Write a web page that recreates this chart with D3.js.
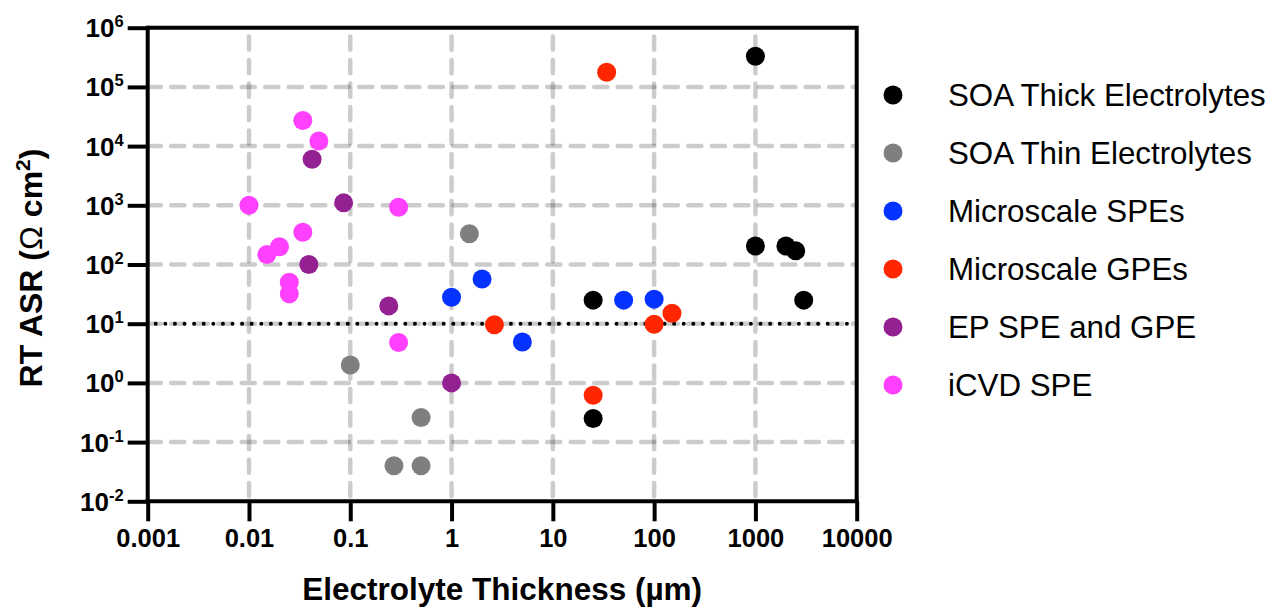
<!DOCTYPE html>
<html>
<head>
<meta charset="utf-8">
<script src="https://cdn.jsdelivr.net/npm/d3@7"></script>
<style>
  html, body { margin: 0; padding: 0; background: #fff; }
  svg { display: block; font-family: "Liberation Sans", Arial, Helvetica, sans-serif; }
</style>
</head>
<body>
<svg id="chart" width="1270" height="608"></svg>
<script>
// Series (thickness in µm, area-specific resistance in Ω·cm²)
const soaThickX = [1000, 1000, 2000, 2500, 3000, 25, 25];
const soaThickY = [330000, 205, 205, 170, 25, 25, 0.25];

const soaThinX = [0.1, 0.5, 0.27, 0.5, 1.5];
const soaThinY = [2, 0.26, 0.04, 0.04, 330];

const microSpeX = [1, 2, 5, 50, 100];
const microSpeY = [28, 57, 4.9, 25, 26];

const microGpeX = [34, 2.65, 100, 150, 25];
const microGpeY = [177000, 9.6, 9.8, 15, 0.62];

const epX = [0.042, 0.086, 0.039, 0.24, 1];
const epY = [6000, 1100, 100, 20, 1];

const icvdX = [0.034, 0.049, 0.01, 0.3, 0.034, 0.02, 0.015, 0.025, 0.025, 0.3];
const icvdY = [27000, 12200, 1000, 925, 350, 200, 147, 50, 32, 4.8];

const seriesNames = ["SOA Thick Electrolytes", "SOA Thin Electrolytes", "Microscale SPEs",
                     "Microscale GPEs", "EP SPE and GPE", "iCVD SPE"];
const seriesColors = ["#000000", "#7f7f7f", "#0433ff", "#ff2600", "#942192", "#ff40ff"];
const seriesX = [soaThickX, soaThinX, microSpeX, microGpeX, epX, icvdX];
const seriesY = [soaThickY, soaThinY, microSpeY, microGpeY, epY, icvdY];

const xTicks = [0.001, 0.01, 0.1, 1, 10, 100, 1000, 10000];
const xTickLabels = ["0.001", "0.01", "0.1", "1", "10", "100", "1000", "10000"];
const yTicks = [1e-2, 1e-1, 1e0, 1e1, 1e2, 1e3, 1e4, 1e5, 1e6];
const yTickExponents = ["-2", "-1", "0", "1", "2", "3", "4", "5", "6"];
const thresholdASR = 10;

// Plot frame
const plotL = 147.7, plotR = 856.7, plotT = 27.7, plotB = 501.3;
const svg = d3.select("#chart");

const x = d3.scaleLog().domain([0.001, 10000]).range([plotL, plotR]);
const y = d3.scaleLog().domain([0.01, 1e6]).range([plotB, plotT]);

// Dashed grid
const grid = svg.append("g").attr("stroke", "#000").attr("stroke-opacity", 0.2)
  .attr("stroke-width", 4.5).attr("stroke-linecap", "round").attr("fill", "none");

grid.selectAll("line.h").data(yTicks.filter(v => v > 0.01 && v < 1e6)).join("line")
  .attr("class", "h")
  .attr("x1", plotL).attr("x2", plotR)
  .attr("y1", d => y(d)).attr("y2", d => y(d))
  .attr("stroke-dasharray", "13.2 10.3");

grid.selectAll("line.v").data(xTicks.filter(v => v > 0.001 && v < 10000)).join("line")
  .attr("class", "v")
  .attr("x1", d => x(d)).attr("x2", d => x(d))
  .attr("y1", plotB).attr("y2", plotT)
  .attr("stroke-dasharray", "13.2 10.3")
  .attr("stroke-dashoffset", 18.5);

// Dotted reference line at 10 Ω·cm²
svg.append("line")
  .attr("x1", plotL + 8).attr("x2", plotR - 4)
  .attr("y1", y(thresholdASR)).attr("y2", y(thresholdASR))
  .attr("stroke", "#000").attr("stroke-width", 4)
  .attr("stroke-linecap", "round").attr("stroke-dasharray", "0 9.6");

// Frame (top and right edges)
svg.append("path")
  .attr("d", `M${plotL},${plotT}H${plotR}V${plotB}`)
  .attr("fill", "none").attr("stroke", "#000").attr("stroke-width", 4);

// X axis
const xAxis = svg.append("g")
  .attr("transform", `translate(0,${plotB})`)
  .call(d3.axisBottom(x).tickValues(xTicks).tickSize(20).tickPadding(0)
        .tickFormat((d, i) => xTickLabels[i]));
xAxis.select(".domain").attr("stroke-width", 4).attr("d", `M${plotL - 2},0H${plotR + 2}`);
xAxis.selectAll(".tick line").attr("stroke-width", 4);
xAxis.selectAll(".tick text")
  .attr("y", 46).attr("dy", null)
  .attr("font-size", 25.5).attr("font-weight", "bold").attr("fill", "#000")
  .attr("font-family", "'Liberation Sans', Arial, sans-serif");

// Y axis with power-of-ten labels
const yAxis = svg.append("g")
  .attr("transform", `translate(${plotL},0)`)
  .call(d3.axisLeft(y).tickValues(yTicks).tickSize(20).tickFormat(""));
yAxis.select(".domain").attr("stroke-width", 4).attr("d", `M0,${plotB + 2}V${plotT - 2}`);
yAxis.selectAll(".tick line").attr("stroke-width", 4);
yAxis.selectAll(".tick").each(function (d, i) {
  const t = d3.select(this).append("text")
    .attr("x", -24).attr("y", 9).attr("text-anchor", "end")
    .attr("fill", "#000").attr("font-weight", "bold")
    .attr("font-family", "'Liberation Sans', Arial, sans-serif");
  t.append("tspan").attr("font-size", 26).text("10");
  t.append("tspan").attr("font-size", 16.5).attr("dy", -10).text(yTickExponents[i]);
});

// Axis titles
svg.append("text")
  .attr("x", (plotL + plotR) / 2).attr("y", 600)
  .attr("text-anchor", "middle").attr("font-size", 31.5).attr("font-weight", "bold")
  .text("Electrolyte Thickness (µm)");

const yt = svg.append("text")
  .attr("transform", "translate(42,268) rotate(-90)")
  .attr("text-anchor", "middle").attr("font-size", 32).attr("font-weight", "bold");
yt.append("tspan").text("RT ASR (");
yt.append("tspan").attr("font-weight", "normal").text("Ω");
yt.append("tspan").text(" cm");
yt.append("tspan").attr("font-size", 21).attr("dy", -12).text("2");
yt.append("tspan").attr("dy", 12).text(")");

// Points
const pts = svg.append("g");
seriesX.forEach((xs, s) => {
  pts.append("g").attr("fill", seriesColors[s])
    .selectAll("circle").data(xs.map((v, i) => [v, seriesY[s][i]])).join("circle")
    .attr("cx", d => x(d[0])).attr("cy", d => y(d[1])).attr("r", 9.5);
});

// Legend
const legend = svg.append("g");
seriesNames.forEach((name, i) => {
  const cy = 95 + i * 58;
  legend.append("circle").attr("cx", 893).attr("cy", cy).attr("r", 9.5).attr("fill", seriesColors[i]);
  legend.append("text").attr("x", 948).attr("y", cy + 11)
    .attr("font-size", 31.3).attr("fill", "#000").text(name);
});
</script>
</body>
</html>
